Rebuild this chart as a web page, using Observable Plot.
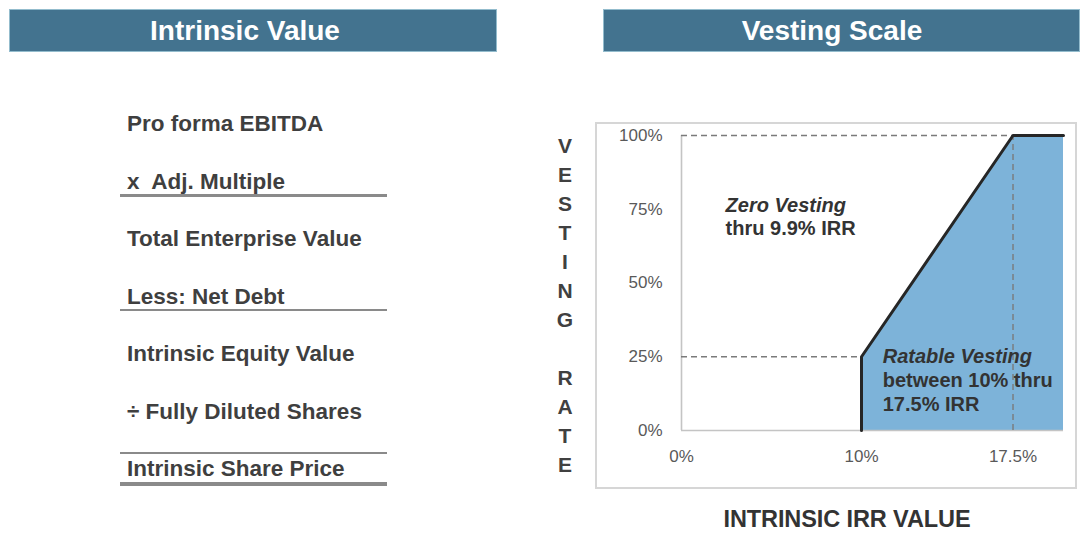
<!DOCTYPE html>
<html>
<head>
<meta charset="utf-8">
<script src="https://cdn.jsdelivr.net/npm/d3@7"></script>
<script src="https://cdn.jsdelivr.net/npm/@observablehq/plot@0.6"></script>
<style>
  body { margin: 0; background: #fff; font-family: "Liberation Sans", Arial, sans-serif; }
  #page { position: relative; width: 1080px; height: 533px; overflow: hidden; background: #fff; }
  .bar { position: absolute; top: 9px; height: 43px; background: #43738f; border: 1px solid #93bccd;
         box-sizing: border-box; color: #fff; font-weight: bold; font-size: 28px; line-height: 41px; text-align: center; }
  .item { position: absolute; left: 127px; font-size: 22.5px; font-weight: bold; color: #3f3f3f; line-height: 26px; white-space: pre; }
  .rule { position: absolute; left: 120px; width: 267px; background: #8a8a8a; }
  #vlabel { position: absolute; left: 545px; width: 40px; top: 131px; text-align: center; font-size: 21px; font-weight: bold;
            color: #404040; line-height: 29px; white-space: pre; }
  #xlabel { position: absolute; left: 647px; width: 400px; top: 509px; text-align: center; font-size: 23.5px; font-weight: bold;
            color: #333; line-height: 20px; letter-spacing: -0.1px; }
  #chartbox { position: absolute; left: 595px; top: 122px; border: 2px solid #d6d6d6; width: 478px; height: 363px; }
  #chartbox svg { display: block; }
</style>
</head>
<body>
<div id="page">
  <div class="bar" style="left:9px;width:488px;padding-right:16px;">Intrinsic Value</div>
  <div class="bar" style="left:603px;width:477px;padding-right:19px;">Vesting Scale</div>
  <div id="items"></div>
  <div id="vlabel"></div>
  <div id="chartbox"></div>
  <div id="xlabel">INTRINSIC IRR VALUE</div>
</div>
<script>
// ---- Data ----
const bridgeItems = ["Pro forma EBITDA", "x  Adj. Multiple", "Total Enterprise Value", "Less: Net Debt",
                     "Intrinsic Equity Value", "÷ Fully Diluted Shares", "Intrinsic Share Price"];
const yAxisTitle = ["V","E","S","T","I","N","G","","R","A","T","E"];

const irrBreaks = [0, 10, 20];          // IRR (%) breakpoints of the axis
const irrTicks = [0, 10, 17.5];         // x tick values (%)
const rateTicks = [0, 25, 50, 75, 100]; // y tick values (%)

const vestIRR  = [10, 10, 17.5, 20];    // intrinsic IRR (%)
const vestRate = [0, 25, 100, 100];     // vesting rate (%)

const guideIRR  = [10, 17.5];           // threshold IRR (%)
const guideRate = [25, 100];            // threshold vesting (%)

const noteTitleText = ["Zero Vesting", "Ratable Vesting"];
const noteTitleIRR  = [2.45, 11.05];
const noteTitleRate = [76.3, 25.1];
const noteLineText = ["thru 9.9% IRR", "between 10% thru", "17.5% IRR"];
const noteLineIRR  = [2.45, 11.05, 11.05];
const noteLineRate = [68.5, 16.8, 8.8];

// ---- Left panel (text list) ----
const itemsEl = document.getElementById("items");
bridgeItems.forEach((t, i) => {
  const d = document.createElement("div");
  d.className = "item";
  d.textContent = t;
  d.style.top = (111 + i * 57.5) + "px";
  itemsEl.appendChild(d);
});
[[194, 2.5], [308.5, 2.5], [452, 2], [482, 4]].forEach(([top, h]) => {
  const r = document.createElement("div");
  r.className = "rule";
  r.style.top = top + "px";
  r.style.height = h + "px";
  itemsEl.appendChild(r);
});
document.getElementById("vlabel").textContent = yAxisTitle.join("\n");

// ---- Chart ----
const vest = vestIRR.map((x, i) => ({irr: x, rate: vestRate[i]}));
const guides = guideIRR.map((x, i) => ({irr: x, rate: guideRate[i]}));
const noteTitles = noteTitleText.map((t, i) => ({text: t, irr: noteTitleIRR[i], rate: noteTitleRate[i]}));
const noteLines = noteLineText.map((t, i) => ({text: t, irr: noteLineIRR[i], rate: noteLineRate[i]}));

const W = 478, H = 363, ML = 84, MR = 12, MT = 11, MB = 57;
const dash = {stroke: "#7a7a7a", strokeWidth: 1.4, strokeDasharray: "6,4"};

const chart = Plot.plot({
  width: W, height: H,
  marginLeft: ML, marginRight: MR, marginTop: MT, marginBottom: MB,
  style: {fontFamily: "'Liberation Sans', Arial, sans-serif", fontSize: "17px", color: "#595959", background: "transparent", overflow: "visible"},
  x: {type: "linear", domain: irrBreaks, range: [ML, ML + 180, W - MR], ticks: irrTicks,
      tickFormat: d => d + "%", tickSize: 0, tickPadding: 19, label: null},
  y: {domain: [0, 100], ticks: rateTicks, tickFormat: d => d + "%", tickSize: 0, tickPadding: 19, label: null},
  marks: [
    Plot.areaY(vest, {x: "irr", y: "rate", fill: "#7db3d9"}),
    Plot.ruleX([irrBreaks[0]], {y1: 0, y2: 100, stroke: "#c4c4c4", strokeWidth: 1.6}),
    Plot.ruleY([0], {x1: irrBreaks[0], x2: irrBreaks[2], stroke: "#c4c4c4", strokeWidth: 1.6}),
    Plot.ruleY(guides, {y: "rate", x1: irrBreaks[0], x2: "irr", ...dash}),
    Plot.ruleX([guideIRR[1]], {y1: 0, y2: guideRate[1], ...dash}),
    Plot.line(vest, {x: "irr", y: "rate", stroke: "#262626", strokeWidth: 3}),
    Plot.text(noteTitles, {x: "irr", y: "rate", text: "text", textAnchor: "start", fontSize: 20,
      fontWeight: "bold", fontStyle: "italic", fill: "#333"}),
    Plot.text(noteLines, {x: "irr", y: "rate", text: "text", textAnchor: "start", fontSize: 20,
      fontWeight: "bold", fill: "#333"})
  ]
});
document.getElementById("chartbox").appendChild(chart);
</script>
</body>
</html>
